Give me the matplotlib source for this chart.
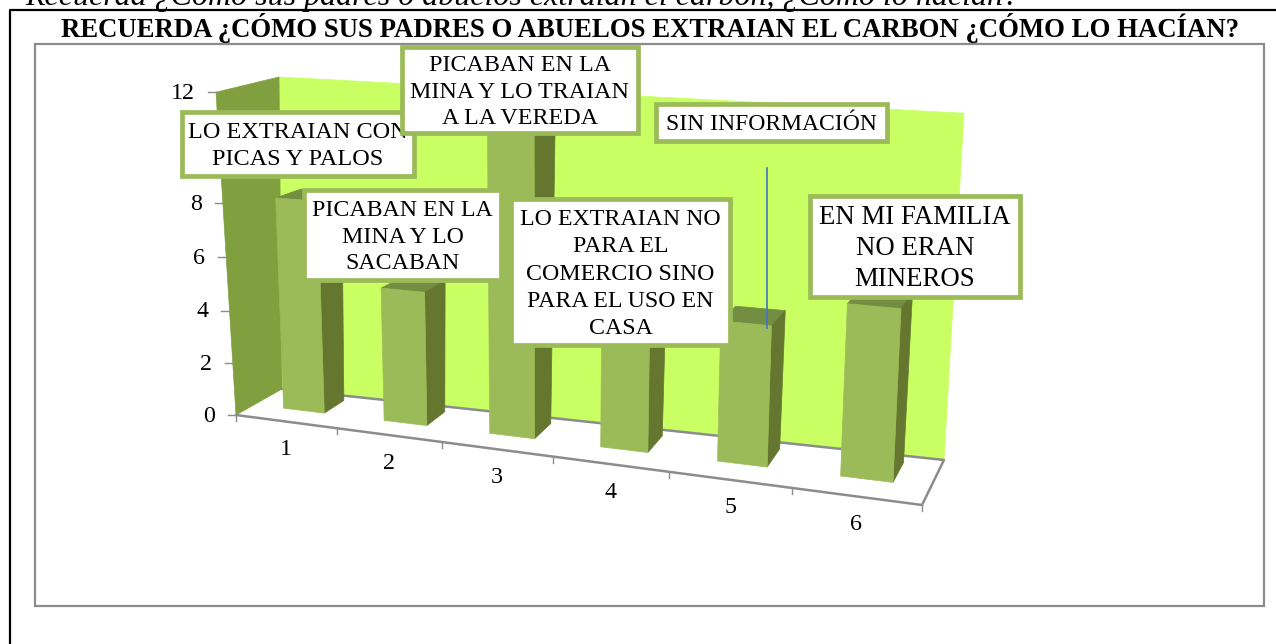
import matplotlib
matplotlib.use("Agg")
import matplotlib.pyplot as plt
from matplotlib.patches import Polygon, Rectangle

plt.rcParams['font.family'] = ['Liberation Serif', 'DejaVu Sans']

categories = [1, 2, 3, 4, 5, 6]
values = [8, 5, 12, 5, 5, 6]
# 10 is hidden behind the first text box in the picture
y_ticks = [0, 2, 4, 6, 8, 12]
y_max = 12
top_text = "Recuerda ¿Cómo sus padres o abuelos extraían el carbón, ¿Cómo lo hacían?"
title = "RECUERDA ¿CÓMO SUS PADRES O ABUELOS EXTRAIAN EL CARBON ¿CÓMO LO HACÍAN?"
box_texts = [
    "LO EXTRAIAN CON\nPICAS Y PALOS",
    "PICABAN EN LA\nMINA Y LO TRAIAN\nA LA VEREDA",
    "PICABAN EN LA\nMINA Y LO\nSACABAN",
    "LO EXTRAIAN NO\nPARA EL\nCOMERCIO SINO\nPARA EL USO EN\nCASA",
    "SIN INFORMACIÓN",
    "EN MI FAMILIA\nNO ERAN\nMINEROS",
]

GRAY = '#8c8c8c'
BAR_FRONT = '#9bbb59'
BAR_SIDE = '#65772f'
BAR_TOP = '#738e42'
WALL_BACK = '#c9ff63'
WALL_LEFT = '#80a040'


def project(c, d, v):
    # c = position along the categories, d = depth 0..1, v = value
    t = c / len(categories)
    u = t / (t + 1.165 * (1 - t))
    xf = 236 + 686 * u
    yf = 415 + 90 * u
    xb = 282 + 662 * u
    yb = 389 + 71 * u
    x = xf + (xb - xf) * d
    y = yf + (yb - yf) * d
    scale = (1 - d) * (26.9 + 3.5 * u) + d * (26 + 2.9 * u)
    lean = (1 - d) * (-20 + 36 * u) + d * (-3 + 23 * u)
    # the picture's vertical scale is a little stretched towards the top
    h = v * (1 + 0.00389 * v) / 1.0467
    return x + lean * v / y_max, y - scale * h


def face(ax, pts, color, z=2):
    ax.add_patch(Polygon([project(*p) for p in pts], closed=True, fc=color, ec=color, lw=0.5, zorder=z))


fig = plt.figure(figsize=(12.76, 6.44), dpi=100)
ax = fig.add_axes([0, 0, 1, 1])
ax.set_xlim(0, 1276)
ax.set_ylim(644, 0)
ax.axis('off')

# page frame and chart frame
ax.plot([10, 10, 1276], [644, 10, 10], color='black', lw=1.6, zorder=1)
ax.add_patch(Rectangle((35, 44), 1229, 562, fc='white', ec=GRAY, lw=1.6, zorder=1))
ax.text(25, 5, top_text, fontsize=23, style='italic', ha='left', va='baseline', clip_on=False, zorder=1)
ax.text(650, 37, title, fontsize=19.3, weight='bold', ha='center', va='baseline', zorder=6)

n = len(categories)
# walls
face(ax, [(0, 1, 0), (n, 1, 0), (n, 1, y_max), (0, 1, y_max)], WALL_BACK)
face(ax, [(0, 0, 0), (0, 1, 0), (0, 1, y_max), (0, 0, y_max)], WALL_LEFT)

# floor edges
floor = [(0, 1), (n, 1), (n, 0), (0, 0)]
fx, fy = zip(*[project(c, d, 0) for c, d in floor])
ax.plot(fx, fy, color=GRAY, lw=1.8, zorder=2.5)

# y axis ticks
for v in y_ticks:
    x, y = project(0, 0, v)
    ax.plot([x - 8, x], [y, y], color=GRAY, lw=1, zorder=2.5)
    ax.text(x - 21, y + 1, str(v), fontsize=17.3, ha='right', va='center', zorder=3)

# category ticks and labels
for c in range(n + 1):
    x, y = project(c, 0, 0)
    ax.plot([x, x], [y, y + 6], color=GRAY, lw=1, zorder=2.5)
for i, cat in enumerate(categories):
    x, y = project(i + 0.5, 0, 0)
    ax.text(x, y + 28, str(cat), fontsize=17.3, ha='center', va='center', zorder=3)

# bars
for i, v in enumerate(values):
    c0 = i + 0.30
    c1 = i + 0.71
    d0 = 0.4
    d1 = 0.85
    face(ax, [(c0, d0, v), (c1, d0, v), (c1, d1, v), (c0, d1, v)], BAR_TOP, 3)
    face(ax, [(c1, d0, 0), (c1, d1, 0), (c1, d1, v), (c1, d0, v)], BAR_SIDE, 3)
    face(ax, [(c0, d0, 0), (c1, d0, 0), (c1, d0, v), (c0, d0, v)], BAR_FRONT, 3)

# blue callout line
ax.plot([766.5, 766.5], [168, 328], color='#4472c4', lw=1.2, zorder=4)

# text boxes: left, top, right, bottom, font size, line spacing
box_pos = [
    (182, 112, 414, 176, 17.5, 1.37),
    (402, 47, 638, 133, 17.3, 1.35),
    (304, 190, 501, 280, 17.2, 1.36),
    (511, 199, 730, 345, 17.2, 1.39),
    (656, 104, 887, 141, 17.0, 1.2),
    (810, 196, 1020, 297, 19.3, 1.3),
]
for txt, (x0, y0, x1, y1, fs, sp) in zip(box_texts, box_pos):
    ax.add_patch(Rectangle((x0, y0), x1 - x0, y1 - y0, fc='white', ec=BAR_FRONT, lw=3.4, zorder=5))
    ax.text((x0 + x1) / 2, (y0 + y1) / 2 + 2, txt, fontsize=fs, ha='center', va='center',
            linespacing=sp, zorder=5)

fig.savefig('out.png', dpi=100)
